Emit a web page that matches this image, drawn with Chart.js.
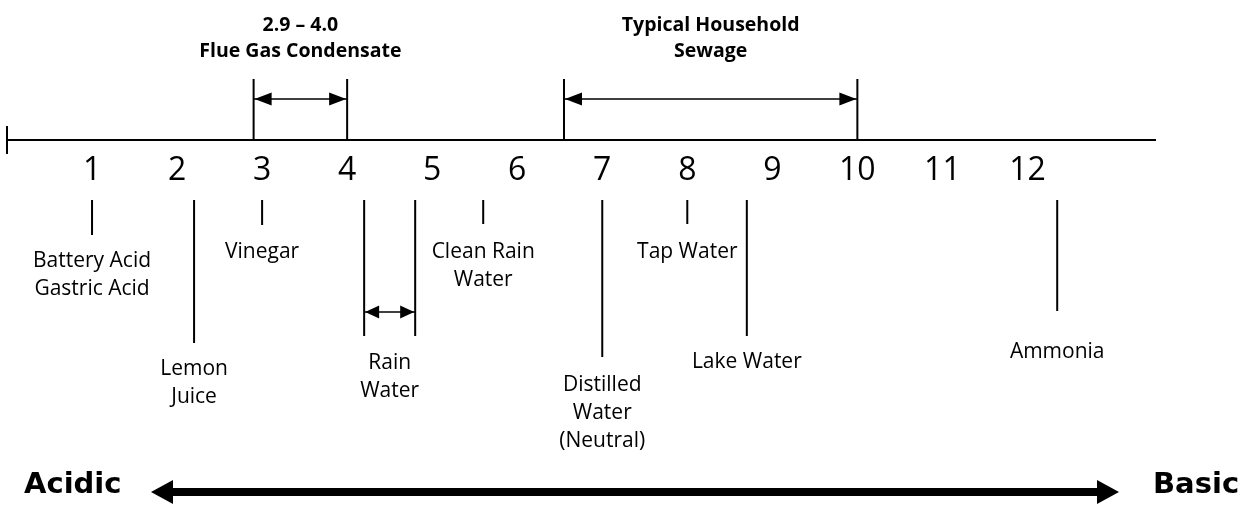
<!DOCTYPE html>
<html>
<head>
<meta charset="utf-8">
<script src="https://cdn.jsdelivr.net/npm/chart.js@4"></script>
<style>
html, body { margin: 0; padding: 0; background: #fff; }
#wrap { width: 1247px; height: 506px; }
</style>
</head>
<body>
<div id="wrap"><canvas id="phchart"></canvas></div>
<script>
// pH scale
var phTicks = [1, 2, 3, 4, 5, 6, 7, 8, 9, 10, 11, 12];

// substances hanging under the axis (low/high differ for a range)
var markerNames = [
    ['Battery Acid', 'Gastric Acid'],
    ['Lemon', 'Juice'],
    ['Vinegar'],
    ['Rain', 'Water'],
    ['Clean Rain', 'Water'],
    ['Distilled', 'Water', '(Neutral)'],
    ['Tap Water'],
    ['Lake Water'],
    ['Ammonia']
];
var markerLow = [1.0, 2.2, 3.0, 4.2, 5.6, 7.0, 8.0, 8.7, 12.35];
var markerHigh = [1.0, 2.2, 3.0, 4.8, 5.6, 7.0, 8.0, 8.7, 12.35];

// ranges drawn above the axis
var rangeNames = [
    ['2.9 \u2013 4.0', 'Flue Gas Condensate'],
    ['Typical Household', 'Sewage']
];
var rangeLow = [2.9, 6.55];
var rangeHigh = [4.0, 10.0];

// layout (pixels, y scale runs 0..506 top-down)
var axisY = 140;
var rangeTop = 79;
var rangeArrowY = 99;
var rangeTextY = 25;
var markerTop = 200;
var markerDepth = [235, 343, 225, 336, 224, 357, 224, 336, 311];
var markerTextY = [261, 369, 252, 363, 252, 385, 252, 362, 352];

function seg(x0, y0, x1, y1, w) {
    return {
        data: [{x: x0, y: y0}, {x: x1, y: y1}],
        showLine: true,
        borderColor: '#000',
        borderWidth: w || 2,
        pointRadius: 0,
        clip: false
    };
}

var sets = [];
sets.push(seg(0, axisY - 14, 0, axisY + 14));
rangeLow.forEach(function (lo, i) {
    sets.push(seg(lo, rangeTop, lo, axisY));
    sets.push(seg(rangeHigh[i], rangeTop, rangeHigh[i], axisY));
    sets.push(seg(lo, rangeArrowY, rangeHigh[i], rangeArrowY, 1.5));
});
markerLow.forEach(function (lo, i) {
    sets.push(seg(lo, markerTop, lo, markerDepth[i]));
    if (markerHigh[i] !== lo) {
        sets.push(seg(markerHigh[i], markerTop, markerHigh[i], markerDepth[i]));
        sets.push(seg(lo, markerDepth[i] - 24, markerHigh[i], markerDepth[i] - 24, 1.5));
    }
});

function head(ctx, tip, y, dir, len, half) {
    ctx.beginPath();
    ctx.moveTo(tip, y);
    ctx.lineTo(tip - dir * len, y - half);
    ctx.lineTo(tip - dir * len, y + half);
    ctx.closePath();
    ctx.fill();
}

var textPlugin = {
    id: 'phText',
    afterDatasetsDraw: function (chart) {
        var ctx = chart.ctx, xs = chart.scales.x, ys = chart.scales.y;
        ctx.save();
        ctx.fillStyle = '#000';
        ctx.textAlign = 'center';
        ctx.textBaseline = 'middle';

        ctx.font = 'bold 19.5px "Open Sans"';
        rangeLow.forEach(function (lo, i) {
            var a = xs.getPixelForValue(lo), b = xs.getPixelForValue(rangeHigh[i]);
            var y = ys.getPixelForValue(rangeArrowY);
            head(ctx, a + 1, y, -1, 17, 6.5);
            head(ctx, b - 1, y, 1, 17, 6.5);
            rangeNames[i].forEach(function (t, k) {
                ctx.fillText(t, (a + b) / 2, ys.getPixelForValue(rangeTextY + k * 26));
            });
        });

        ctx.font = '21px "Open Sans"';
        markerLow.forEach(function (lo, i) {
            var a = xs.getPixelForValue(lo), b = xs.getPixelForValue(markerHigh[i]);
            if (a !== b) {
                var y = ys.getPixelForValue(markerDepth[i] - 24);
                head(ctx, a + 1, y, -1, 14, 6.5);
                head(ctx, b - 1, y, 1, 14, 6.5);
            }
            markerNames[i].forEach(function (t, k) {
                ctx.fillText(t, (a + b) / 2, ys.getPixelForValue(markerTextY[i] + k * 28));
            });
        });

        // acidic <-> basic
        ctx.lineWidth = 8;
        ctx.strokeStyle = '#000';
        ctx.beginPath();
        ctx.moveTo(165, 492);
        ctx.lineTo(1105, 492);
        ctx.stroke();
        head(ctx, 151, 492, -1, 22, 12);
        head(ctx, 1119, 492, 1, 22, 12);

        ctx.textAlign = 'left';
        ctx.textBaseline = 'alphabetic';
        ctx.font = 'bold 29px "DejaVu Sans"';
        ctx.fillText('Acidic', 24, 493);
        ctx.fillText('Basic', 1153, 493);
        ctx.restore();
    }
};

var ctx = document.getElementById('phchart').getContext('2d');
var myChart = new Chart(ctx, {
    type: 'scatter',
    data: { datasets: sets },
    options: {
        responsive: true,
        maintainAspectRatio: false,
        animation: false,
        events: [],
        layout: { padding: { left: 7, right: 92, top: 0, bottom: 0 } },
        plugins: { legend: { display: false }, tooltip: { enabled: false } },
        scales: {
            x: {
                type: 'linear',
                min: 0,
                max: 13.5,
                position: { y: axisY },
                grid: { display: false, drawTicks: false },
                border: { display: true, color: '#000', width: 2 },
                afterBuildTicks: function (axis) {
                    axis.ticks = phTicks.map(function (v) { return { value: v }; });
                },
                ticks: {
                    color: '#000',
                    padding: 12,
                    maxRotation: 0,
                    autoSkip: false,
                    font: { family: 'Open Sans', size: 32 }
                }
            },
            y: {
                type: 'linear',
                min: 0,
                max: 506,
                reverse: true,
                display: false
            }
        }
    },
    plugins: [textPlugin]
});
</script>
</body>
</html>
